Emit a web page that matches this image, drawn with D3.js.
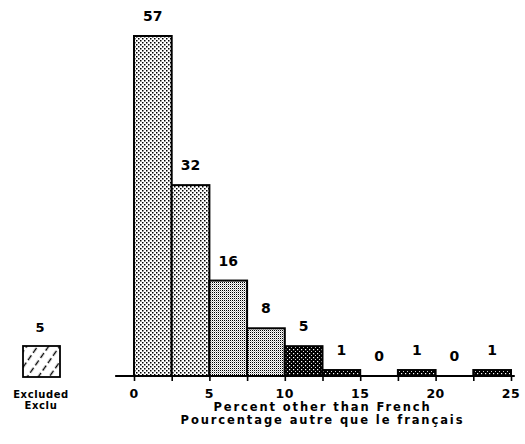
<!DOCTYPE html>
<html><head><meta charset="utf-8">
<script src="https://cdn.jsdelivr.net/npm/d3@7"></script>
<style>html,body{margin:0;padding:0;background:#fff;} text{font-family:"DejaVu Sans",sans-serif;font-weight:bold;fill:#000;}</style>
</head><body>
<svg id="chart" width="525" height="444"></svg>
<script>
// ---- data ----
const binStart = [0, 2.5, 5, 7.5, 10, 12.5, 15, 17.5, 20, 22.5];
const binEnd   = [2.5, 5, 7.5, 10, 12.5, 15, 17.5, 20, 22.5, 25];
const counts   = [57, 32, 16, 8, 5, 1, 0, 1, 0, 1];
const shade    = ["light","light","medium","medium","dark","dark","dark","dark","dark","dark"];
const tickLabels = [0, 5, 10, 15, 20, 25];
const minorTicks = [0, 2.5, 5, 7.5, 10, 12.5, 15, 17.5, 20, 22.5, 25];
const excludedCount = 5;
const excludedLabel = ["Excluded", "Exclu"];
const xTitle = ["Percent other than French", "Pourcentage autre que le français"];

const svg = d3.select("#chart");
const x = d3.scaleLinear().domain([0, 25]).range([134, 511]);
const y = d3.scaleLinear().domain([0, 57]).range([376, 36]);

// ---- patterns ----
const defs = svg.append("defs");
function pat(id, size, bg) {
  const p = defs.append("pattern").attr("id", id).attr("patternUnits","userSpaceOnUse")
    .attr("width", size).attr("height", size);
  p.append("rect").attr("width", size).attr("height", size).attr("fill", bg);
  return p;
}
const pLight = pat("light", 4, "#fff");
pLight.append("rect").attr("x",0).attr("y",0).attr("width",1.5).attr("height",1.5).attr("fill","#000");
pLight.append("rect").attr("x",2).attr("y",2).attr("width",1.5).attr("height",1.5).attr("fill","#000");

const pMed = pat("medium", 2, "#fff");
pMed.append("rect").attr("x",0).attr("y",0).attr("width",1).attr("height",1).attr("fill","#000");
pMed.append("rect").attr("x",1).attr("y",1).attr("width",1).attr("height",1).attr("fill","#bbb");

const pDark = pat("dark", 4, "#000");
pDark.append("rect").attr("x",1).attr("y",1).attr("width",1.2).attr("height",1.2).attr("fill","#fff");
pDark.append("rect").attr("x",3).attr("y",3).attr("width",1.2).attr("height",1.2).attr("fill","#ddd");

const pHatch = defs.append("pattern").attr("id","hatch").attr("patternUnits","userSpaceOnUse")
  .attr("width",9).attr("height",9).attr("patternTransform","rotate(-55)");
pHatch.append("rect").attr("width",9).attr("height",9).attr("fill","#fff");
pHatch.append("line").attr("x1",0).attr("y1",4.5).attr("x2",6).attr("y2",4.5).attr("stroke","#000").attr("stroke-width",1.4);

// ---- bars ----
const bins = counts.map((c, i) => ({c, s: binStart[i], e: binEnd[i], f: shade[i]}));
svg.append("g").selectAll("rect").data(bins.filter(d => d.c > 0)).join("rect")
  .attr("x", d => x(d.s)).attr("width", d => x(d.e) - x(d.s))
  .attr("y", d => y(d.c)).attr("height", d => y(0) - y(d.c))
  .attr("fill", d => `url(#${d.f})`).attr("stroke","#000").attr("stroke-width",2);

// value labels
svg.append("g").selectAll("text").data(bins).join("text")
  .attr("x", d => x((d.s + d.e) / 2)).attr("y", d => y(d.c) - 15)
  .attr("text-anchor","middle").attr("font-size", 14).text(d => d.c);

// ---- axis ----
svg.append("line").attr("x1", x(-1.25)).attr("x2", x(25.25)).attr("y1", y(0)).attr("y2", y(0))
  .attr("stroke","#000").attr("stroke-width",2.2);
const ax = svg.append("g").attr("transform", `translate(0,${y(0)})`)
  .call(d3.axisBottom(x).tickValues(minorTicks).tickSize(5).tickFormat(""));
ax.select(".domain").remove();
ax.selectAll(".tick line").attr("stroke-width",1.6);
svg.append("g").selectAll("text").data(tickLabels).join("text")
  .attr("x", d => x(d)).attr("y", y(0) + 22).attr("text-anchor","middle")
  .attr("font-size", 12.5).attr("letter-spacing", 0.5).text(d => d);

svg.append("g").selectAll("text").data(xTitle).join("text")
  .attr("x", x(12.5)).attr("y", (d, i) => y(0) + 35 + i * 13).attr("text-anchor","middle")
  .attr("font-size", 11.5).attr("letter-spacing", 1.9).text(d => d);

// ---- excluded legend ----
svg.append("text").attr("x", 40).attr("y", 332).attr("text-anchor","middle").attr("font-size", 13).text(excludedCount);
svg.append("rect").attr("x", 23).attr("y", 346).attr("width", 37).attr("height", 31)
  .attr("fill","url(#hatch)").attr("stroke","#000").attr("stroke-width",1.8);
svg.append("g").selectAll("text").data(excludedLabel).join("text")
  .attr("x", 41).attr("y", (d, i) => 398 + i * 11).attr("text-anchor","middle")
  .attr("font-size", 10).attr("letter-spacing", 0.6).text(d => d);
</script>
</body></html>
